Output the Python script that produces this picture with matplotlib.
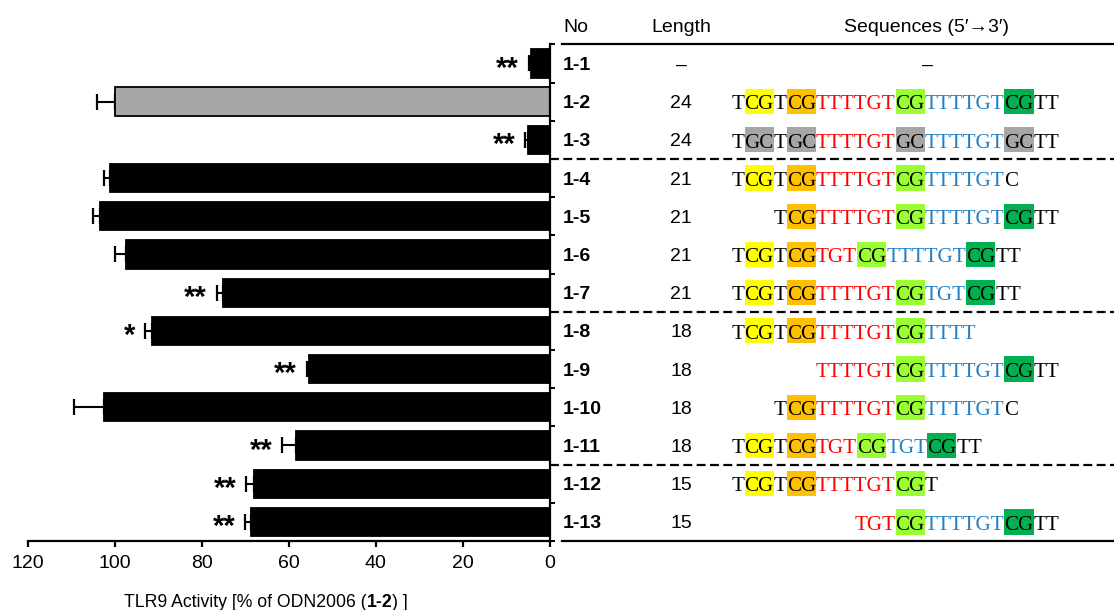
import numpy as np
import matplotlib
matplotlib.use("Agg")
import matplotlib.pyplot as plt
from matplotlib.patches import Rectangle
from matplotlib.font_manager import FontProperties
from itertools import groupby

plt.rcParams['font.family'] = ['Liberation Sans', 'DejaVu Sans']

# data
names = ['1-1', '1-2', '1-3', '1-4', '1-5', '1-6', '1-7',
         '1-8', '1-9', '1-10', '1-11', '1-12', '1-13']
activity = [4.4, 100.0, 5.0, 101.0, 103.3, 97.4, 75.1,
            91.4, 55.3, 102.5, 58.4, 68.1, 68.7]
errors = [0.5, 4.0, 0.7, 1.4, 1.7, 2.6, 1.5,
          1.7, 0.6, 6.8, 3.1, 1.7, 1.4]
signif = ['**', '', '**', '', '', '', '**', '*', '**', '', '**', '**', '**']
lengths = ['\u2013', '24', '24', '21', '21', '21', '21',
           '18', '18', '18', '18', '15', '15']
sequences = ['',
             'TCGTCGTTTTGTCGTTTTGTCGTT',
             'TGCTGCTTTTGTGCTTTTGTGCTT',
             'TCGTCGTTTTGTCGTTTTGTC',
             'TCGTTTTGTCGTTTTGTCGTT',
             'TCGTCGTGTCGTTTTGTCGTT',
             'TCGTCGTTTTGTCGTGTCGTT',
             'TCGTCGTTTTGTCGTTTT',
             'TTTTGTCGTTTTGTCGTT',
             'TCGTTTTGTCGTTTTGTC',
             'TCGTCGTGTCGTGTCGTT',
             'TCGTCGTTTTGTCGT',
             'TGTCGTTTTGTCGTT']
# per-base motif labels: Y/O/L/D = CpG motif 1..4, X = GpC, r/b = spacers, k = other
motifs = ['',
          'kYYkOOrrrrrrLLbbbbbbDDkk',
          'kXXkXXrrrrrrXXbbbbbbXXkk',
          'kYYkOOrrrrrrLLbbbbbbk',
          'kOOrrrrrrLLbbbbbbDDkk',
          'kYYkOOrrrLLbbbbbbDDkk',
          'kYYkOOrrrrrrLLbbbDDkk',
          'kYYkOOrrrrrrLLbbbb',
          'rrrrrrLLbbbbbbDDkk',
          'kOOrrrrrrLLbbbbbbk',
          'kYYkOOrrrLLbbbDDkk',
          'kYYkOOrrrrrrLLk',
          'rrrLLbbbbbbDDkk']
# alignment of each sequence against 1-2 (number of leading bases skipped)
offsets = [0, 0, 0, 0, 3, 0, 0, 0, 6, 3, 0, 0, 9]
group_breaks = [2.5, 6.5, 10.5]

box_colors = {'Y': '#ffff00', 'O': '#ffc000', 'L': '#99ff33',
              'D': '#00b050', 'X': '#a6a6a6'}
text_colors = {'r': '#ff0000', 'b': '#1f7fc8', 'k': 'black'}

W, H = 1114, 610
fig = plt.figure(figsize=(W / 100, H / 100), dpi=100)

x0, x1 = 27.7, 550.0
ytop, ybot = 44.3, 541.0
ax = fig.add_axes([x0 / W, (H - ybot) / H, (x1 - x0) / W, (ybot - ytop) / H])

n = len(names)
y = np.arange(n)
colors = ['#a6a6a6' if nm == '1-2' else 'black' for nm in names]

ax.errorbar(activity, y, xerr=[np.zeros(n), errors], fmt='none',
            ecolor='black', elinewidth=1.5, capsize=6, capthick=1.6, zorder=1)
ax.barh(y, activity, height=0.74, color=colors, edgecolor='black',
        linewidth=1.3, zorder=2)

for i in range(n):
    if signif[i]:
        ax.annotate(signif[i], xy=(activity[i] + errors[i], i), xytext=(-7, -1.5),
                    textcoords='offset points', ha='right', va='center_baseline',
                    fontsize=21, fontweight='bold')

ax.set_xlim(120, 0)
ax.set_ylim(n - 0.5, -0.5)
ax.set_xticks(np.arange(0, 121, 20))
ax.set_yticks(np.arange(-0.5, n, 1.0))
ax.set_yticklabels([])
ax.yaxis.tick_right()
ax.spines['left'].set_visible(False)
ax.spines['top'].set_visible(False)
for s in ['right', 'bottom']:
    ax.spines[s].set_linewidth(1.6)
ax.tick_params(axis='x', direction='out', length=4, width=1.6,
               labelsize=14, pad=6)
ax.tick_params(axis='y', direction='out', length=3.5, width=1.4)

# x-axis label with bold compound id
t1 = fig.text(124 / W, 3 / H, 'TLR9 Activity [% of ODN2006 (', fontsize=12.7,
              va='baseline', ha='left')
t2 = ax.annotate('1-2', xy=(1, 0), xycoords=t1, va='bottom', ha='left',
                 fontsize=12.7, fontweight='bold', annotation_clip=False)
ax.annotate(') ]', xy=(1, 0), xycoords=t2, va='bottom', ha='left',
            fontsize=12.7, annotation_clip=False)

# table part on the right (x in pixels)
tx = fig.add_axes([x1 / W, (H - ybot) / H, (W - x1) / W, (ybot - ytop) / H])
tx.set_xlim(x1, W)
tx.set_ylim(n - 0.5, -0.5)
tx.axis('off')

tx.text(563, -1, 'No', fontsize=14, ha='left', va='center_baseline', clip_on=False)
tx.text(681, -1, 'Length', fontsize=14, ha='center', va='center_baseline', clip_on=False)
tx.text(927, -1, 'Sequences (5\u2032\u21923\u2032)', fontsize=14, ha='center',
        va='center_baseline', clip_on=False)

tx.plot([561.5, W], [-0.5, -0.5], color='black', lw=1.6, clip_on=False)
tx.plot([561.5, W], [n - 0.5, n - 0.5], color='black', lw=1.6, clip_on=False)
for b in group_breaks:
    tx.plot([x1, W], [b, b], color='black', lw=1.6, ls=(0, (4, 2)), clip_on=False)

renderer = fig.canvas.get_renderer()
seq_font = FontProperties(family='Liberation Serif', size=15.1)


def text_w(s):
    if not s:
        return 0.0
    w, h, d = renderer.get_text_width_height_descent(s, seq_font, ismath=False)
    return w


seq_left = 731.7
for i in range(n):
    tx.text(563, i, names[i], fontsize=14, fontweight='bold', ha='left',
            va='center_baseline')
    tx.text(681, i, lengths[i], fontsize=14, ha='center', va='center_baseline')
    if not sequences[i]:
        tx.text(927, i, '\u2013', fontsize=14, ha='center', va='center_baseline')
        continue
    xc = seq_left + text_w(sequences[1][:offsets[i]])
    pos = 0
    for m, grp in groupby(motifs[i]):
        k = len(list(grp))
        run = sequences[i][pos:pos + k]
        pos += k
        w = text_w(run)
        if m in box_colors:
            tx.add_patch(Rectangle((xc, i - 0.33), w, 0.66,
                                   facecolor=box_colors[m], edgecolor='none', zorder=1))
            col = 'black'
        else:
            col = text_colors[m]
        tx.text(xc, i + 0.02, run, fontproperties=seq_font, color=col,
                ha='left', va='center_baseline', zorder=2)
        xc += w

fig.savefig('out.png', dpi=100)
